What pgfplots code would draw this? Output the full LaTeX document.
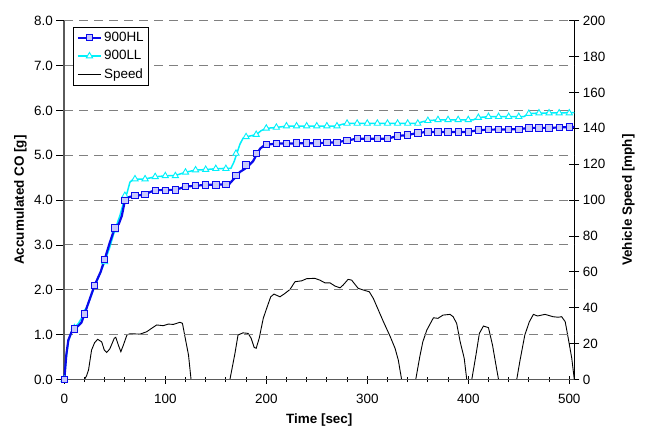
\documentclass[border=0pt]{standalone}
\usepackage{pgfplots}
\pgfplotsset{compat=1.18}
\usepackage{fontspec}
\setmainfont{Liberation Sans}
\definecolor{hlblue}{RGB}{10,10,235}
\definecolor{llcyan}{RGB}{0,240,250}
\definecolor{gridgray}{RGB}{128,128,128}
\definecolor{axgray}{RGB}{90,90,90}
\begin{document}
\begin{tikzpicture}
\useasboundingbox (-64.3bp,-50.5bp) rectangle (580.7bp,379.5bp);
% ---------- speed axis (right) ----------
\begin{axis}[
  at={(0,0)}, anchor=south west, scale only axis,
  width=510bp, height=358.8bp,
  xmin=0, xmax=505, ymin=0, ymax=200,
  hide x axis, axis y line*=right,
  ytick={0,20,...,200},
  tick align=center, major tick length=10bp,
  axis line style={black, line width=1bp},
  every tick/.style={black, line width=0.8bp},
  tick label style={font=\fontsize{13.5}{16}\selectfont},
  /pgf/number format/assume math mode=true,
  ylabel={Vehicle Speed [mph]},
  ylabel style={at={(axis description cs:1.106,0.5)}, anchor=center, font=\bfseries\fontsize{13.5}{16}\selectfont},
]
\addplot[black, line width=0.9bp] coordinates {
(0,0) (20,0) (22,2) (24,5.3) (27,16.4) (30,20.5) (33,22.4) (37,21) (39.6,16.4) (42,15.1) (45,17)
(49.5,23) (51,23.5) (53.5,19.2) (56,15.5) (58.5,19.2) (62,24.8) (65,25.5) (75,25.3) (81.5,26.6)
(88,29.1) (91.5,30.4) (98,30) (103,30.9) (108,30.7) (114.5,31.9) (117,31.3) (119.5,23.8) (123,13.6)
(125.5,0) (164,0) (169,14.6) (172,24.8) (177,26) (182,25.7) (185,23) (188,17.9) (190,17.4) (193,23)
(197,34.1) (200.4,39.7) (204.4,46.1) (207.6,47.6) (213.6,46.1) (218.5,48) (223.5,50.2) (228.4,54.5)
(235,55) (240,56.2) (248,56.4) (253,55.4) (258,53.9) (263,53.9) (268,52.1) (273,51.1) (276,52.6)
(281,55.8) (284.5,55.4) (291,50.8) (296,49.9) (302,48.9) (306,45.2) (311,38.7) (316,32.2) (319,28.5)
(322.5,24.2) (327.5,17.4) (330.7,10.9) (334,0) (348,0) (352,12.7) (355,21) (359,27.6) (365.5,34.4)
(370,34.1) (375,35.9) (382,36.3) (385,35) (388.5,31.3) (392,21) (396,11.8) (398.5,0) (403.5,0)
(407.6,13.6) (411,25.7) (415,29.8) (420,28.9) (424,19.2) (428,6.2) (430,0) (448,0) (451,9.9)
(456,24.8) (460.5,32.2) (464.5,36.3) (468.5,35.4) (476,36.3) (484,35) (489,34.7) (492.5,35)
(496,32.2) (499,23) (502.5,11.8) (505,0)
};
\end{axis}
% ---------- CO axis (left) ----------
\begin{axis}[
  at={(0,0)}, anchor=south west, scale only axis,
  width=510bp, height=358.8bp,
  xmin=0, xmax=505, ymin=0, ymax=8,
  axis x line*=bottom, axis y line*=left,
  clip=false,
  xtick={0,100,...,500}, minor x tick num=4,
  ytick={0,1,...,8},
  ymajorgrids,
  grid style={gridgray, line width=0.9bp, dash pattern=on 9bp off 6bp},
  axis line style={axgray, line width=1.6bp},
  every tick/.style={black, line width=0.8bp},
  xtick align=center, major tick length=8bp, minor tick length=5bp,
  ytick align=outside,
  tick label style={font=\fontsize{13.5}{16}\selectfont},
  xticklabel style={yshift=-7bp},
  /pgf/number format/assume math mode=true,
  yticklabel style={/pgf/number format/fixed, /pgf/number format/fixed zerofill, /pgf/number format/precision=1},
  xlabel={Time [sec]},
  xlabel style={at={(axis description cs:0.5,-0.114)}, anchor=center, font=\bfseries\fontsize{13.5}{16}\selectfont},
  ylabel={Accumulated CO [g]},
  ylabel style={at={(axis description cs:-0.086,0.5)}, anchor=center, font=\bfseries\fontsize{13.5}{16}\selectfont},
  legend style={at={(axis description cs:0.018,0.983)}, anchor=north west, draw=black, line width=0.8bp,
    font=\fontsize{13.5}{16}\selectfont, row sep=3.5bp, inner sep=3bp,
    legend cell align=left},
  legend image code/.code={\draw[mark repeat=2,mark phase=2] plot coordinates {(0bp,0bp) (11.5bp,0bp) (23bp,0bp)};},
]
% 900LL line
\addplot[llcyan, line width=1.5bp, forget plot] coordinates {
(0,0) (2,0.5) (4,0.85) (7,1.05) (10,1.15) (14,1.25) (20,1.48) (30,2.07) (40,2.62) (45,2.95) (50,3.33)
(55,3.65) (60,4.05) (62,4.15) (65,4.40) (68,4.46) (70,4.47) (80,4.47) (90,4.52) (100,4.54) (110,4.55)
(120,4.62) (130,4.67) (140,4.68) (150,4.70) (165,4.71) (168,4.85) (171,5.05) (174,5.25) (177,5.38)
(180,5.41) (190,5.46) (195,5.55) (200,5.60) (210,5.62) (220,5.65) (270,5.65) (275,5.69) (280,5.71)
(350,5.71) (355,5.75) (360,5.77) (370,5.79) (405,5.79) (410,5.84) (420,5.86) (455,5.86) (460,5.93)
(470,5.94) (505,5.95)
};
% 900HL line
\addplot[hlblue, line width=2.2bp, forget plot] coordinates {
(0,0) (2,0.55) (4,0.88) (7,1.05) (10,1.13) (14,1.20) (17,1.27) (20,1.46) (30,2.10) (36,2.40) (40,2.68)
(45,3.05) (50,3.38) (54,3.47) (57,3.65) (60,3.99) (63,4.06) (70,4.10) (80,4.12) (85,4.18) (90,4.22)
(110,4.23) (120,4.30) (130,4.32) (140,4.34) (163,4.35) (167,4.45) (171,4.55) (174,4.63) (179,4.70)
(183,4.78) (187,4.87) (191,5.04) (194,5.15) (198,5.22) (202,5.24) (210,5.26) (250,5.27) (260,5.28)
(270,5.29) (280,5.33) (290,5.37) (320,5.37) (330,5.43) (340,5.45) (350,5.50) (360,5.52) (400,5.52)
(410,5.56) (420,5.57) (450,5.58) (460,5.61) (480,5.61) (490,5.62) (500,5.63) (505,5.63)
};
% 900LL marks
\addplot[only marks, mark=triangle*, mark size=3.6bp, forget plot,
  mark options={draw=llcyan, fill=white, line width=0.9bp}] coordinates {
(0,0) (10,1.15) (20,1.48) (30,2.07) (40,2.62) (50,3.33) (60,4.10) (70,4.47) (80,4.47) (90,4.52)
(100,4.54) (110,4.54) (120,4.62) (130,4.67) (140,4.68) (150,4.70) (160,4.70) (170,5.04) (180,5.41)
(190,5.46) (200,5.60) (210,5.62) (220,5.65) (230,5.65) (240,5.65) (250,5.65) (260,5.65) (270,5.65)
(280,5.71) (290,5.71) (300,5.71) (310,5.71) (320,5.71) (330,5.71) (340,5.71) (350,5.71) (360,5.77)
(370,5.79) (380,5.79) (390,5.79) (400,5.79) (410,5.84) (420,5.86) (430,5.86) (440,5.86) (450,5.86)
(460,5.93) (470,5.94) (480,5.94) (490,5.94) (500,5.94)
};
% 900HL marks
\addplot[only marks, mark=square*, mark size=3.2bp, forget plot,
  mark options={draw=hlblue, fill=hlblue!22, line width=0.9bp}] coordinates {
(0,0) (10,1.13) (20,1.46) (30,2.10) (40,2.68) (50,3.38) (60,3.99) (70,4.10) (80,4.12) (90,4.22)
(100,4.22) (110,4.23) (120,4.30) (130,4.32) (140,4.34) (150,4.34) (160,4.35) (170,4.55) (180,4.78)
(190,5.04) (200,5.24) (210,5.26) (220,5.26) (230,5.27) (240,5.27) (250,5.27) (260,5.28) (270,5.29)
(280,5.33) (290,5.37) (300,5.37) (310,5.37) (320,5.37) (330,5.43) (340,5.45) (350,5.50) (360,5.52)
(370,5.52) (380,5.52) (390,5.52) (400,5.52) (410,5.56) (420,5.57) (430,5.57) (440,5.57) (450,5.58)
(460,5.61) (470,5.61) (480,5.61) (490,5.62) (500,5.63)
};
\addlegendimage{hlblue, line width=2.2bp, mark=square*, mark size=3.2bp, mark options={draw=hlblue, fill=hlblue!22, line width=0.9bp}}
\addlegendentry{900HL}
\addlegendimage{llcyan, line width=1.5bp, mark=triangle*, mark size=3.6bp, mark options={draw=llcyan, fill=white, line width=0.9bp}}
\addlegendentry{900LL}
\addlegendimage{black, line width=0.9bp}
\addlegendentry{Speed}
\end{axis}
\end{tikzpicture}
\end{document}
